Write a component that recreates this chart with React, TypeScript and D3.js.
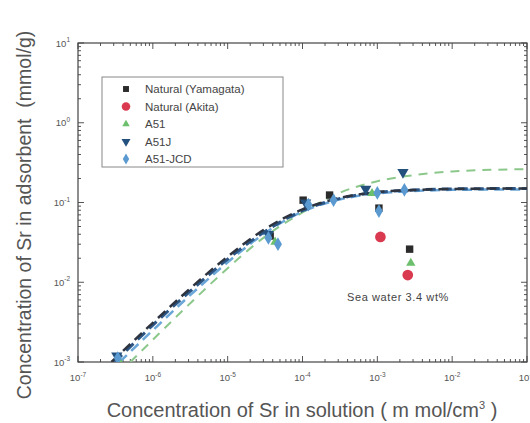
import * as d3 from 'd3'
import React from 'react'

// measured points (c in mmol/cm3, q in mmol/g)
const yamagataC = [3.7e-5, 1.02e-4, 2.3e-4, 1.05e-3, 2.7e-3]
const yamagataQ = [0.038, 0.107, 0.124, 0.085, 0.026]
const akitaC = [1.1e-3, 2.55e-3]
const akitaQ = [0.037, 0.0123]
const a51C = [3.6e-7, 4.3e-5, 8.5e-4, 2.8e-3]
const a51Q = [1.0e-3, 0.032, 0.13, 0.0174]
const a51jC = [3.3e-7, 3.5e-5, 1.1e-4, 7.0e-4, 2.2e-3]
const a51jQ = [1.2e-3, 0.040, 0.099, 0.148, 0.24]
const jcdC = [3.4e-7, 3.5e-5, 4.7e-5, 1.2e-4, 2.6e-4, 1.0e-3, 1.05e-3, 2.3e-3]
const jcdQ = [1.12e-3, 0.036, 0.030, 0.094, 0.107, 0.132, 0.078, 0.144]

// fitted curves
const fitBlackC = [2.8e-7, 1e-6, 3e-6, 1e-5, 3e-5, 1e-4, 3e-4, 1e-3, 3e-3, 1e-2, 1e-1]
const fitBlackQ = [1e-3, 0.0031, 0.008, 0.021, 0.045, 0.082, 0.113, 0.135, 0.143, 0.148, 0.15]
const fitBlueC = [3.1e-7, 1e-6, 3e-6, 1e-5, 3e-5, 1e-4, 3e-4, 1e-3, 3e-3, 1e-2, 1e-1]
const fitBlueQ = [1e-3, 0.0029, 0.0074, 0.0195, 0.042, 0.079, 0.111, 0.134, 0.143, 0.148, 0.15]
const fitJcdC = [3.6e-7, 1e-6, 3e-6, 1e-5, 3e-5, 1e-4, 3e-4, 1e-3, 3e-3, 1e-2, 1e-1]
const fitJcdQ = [1e-3, 0.0025, 0.0066, 0.0178, 0.04, 0.077, 0.108, 0.13, 0.139, 0.144, 0.146]
const fitGreenC = [5e-7, 1e-6, 3e-6, 1e-5, 3e-5, 1e-4, 3e-4, 1e-3, 3e-3, 1e-2, 1e-1]
const fitGreenQ = [1e-3, 0.0019, 0.0052, 0.015, 0.036, 0.075, 0.13, 0.185, 0.22, 0.245, 0.262]

const xExps = [-7, -6, -5, -4, -3, -2, -1]
const yExps = [1, 0, -1, -2, -3]

const W = 530
const H = 423
const m = { left: 78, right: 527, top: 43, bottom: 362 }

const x = d3.scaleLog().domain([1e-7, 1e-1]).range([m.left, m.right])
const y = d3.scaleLog().domain([1e-3, 1e1]).range([m.bottom, m.top])

const zip = (cs: number[], qs: number[]) => cs.map((c, i) => [c, qs[i]] as [number, number])

const line = d3.line<[number, number]>()
  .x(d => x(d[0]))
  .y(d => y(d[1]))
  .curve(d3.curveMonotoneX)

const minor = (lo: number, hi: number) => {
  const out: number[] = []
  for (let e = lo; e < hi; e++) {
    for (let k = 2; k <= 9; k++) out.push(k * Math.pow(10, e))
  }
  return out
}

const sym = (type: d3.SymbolType, size: number) => d3.symbol().type(type).size(size)() as string

const series = [
  { label: 'Natural (Yamagata)', c: yamagataC, q: yamagataQ, color: '#2b2b2b', path: sym(d3.symbolSquare, 55), rot: 0 },
  { label: 'Natural (Akita)', c: akitaC, q: akitaQ, color: '#d93a50', path: sym(d3.symbolCircle, 90), rot: 0 },
  { label: 'A51', c: a51C, q: a51Q, color: '#6cbf6c', path: sym(d3.symbolTriangle, 38), rot: 0 },
  { label: 'A51J', c: a51jC, q: a51jQ, color: '#24507e', path: sym(d3.symbolTriangle, 55), rot: 180 },
  { label: 'A51-JCD', c: jcdC, q: jcdQ, color: '#5a9ad0', path: sym(d3.symbolDiamond, 55), rot: 0 }
]

const fits = [
  { c: fitGreenC, q: fitGreenQ, color: '#8cc88c', w: 2, dash: '9,7' },
  { c: fitJcdC, q: fitJcdQ, color: '#6aa6d8', w: 2.5, dash: '10,6' },
  { c: fitBlueC, q: fitBlueQ, color: '#2a5585', w: 3, dash: '10,6' },
  { c: fitBlackC, q: fitBlackQ, color: '#2e3440', w: 2.5, dash: '10,6' }
]

const tickColor = '#555'
const font = 'Arial, "Liberation Sans", sans-serif'

function Pow ({ e }: { e: number }) {
  return (
    <>
      10<tspan dy={-4.5} fontSize={6.5}>{e}</tspan>
    </>
  )
}

export default function App () {
  const xMinor = minor(-7, -1)
  const yMinor = minor(-3, 1)
  return (
    <div style={{ position: 'fixed', left: 0, top: 0 }}>
      <svg width={W} height={H} style={{ display: 'block', background: '#fff' }} fontFamily={font}>
        <defs>
          <clipPath id='plot'>
            <rect x={m.left} y={m.top} width={m.right - m.left} height={m.bottom - m.top} />
          </clipPath>
        </defs>

        {/* ticks inside the frame, all four sides */}
        <g stroke={tickColor} strokeWidth={1}>
          {xMinor.map((v, i) => (
            <g key={'xm' + i}>
              <line x1={x(v)} x2={x(v)} y1={m.bottom} y2={m.bottom - 3} />
              <line x1={x(v)} x2={x(v)} y1={m.top} y2={m.top + 3} />
            </g>
          ))}
          {xExps.map(e => (
            <g key={'xM' + e}>
              <line x1={x(Math.pow(10, e))} x2={x(Math.pow(10, e))} y1={m.bottom} y2={m.bottom - 6} />
              <line x1={x(Math.pow(10, e))} x2={x(Math.pow(10, e))} y1={m.top} y2={m.top + 6} />
            </g>
          ))}
          {yMinor.map((v, i) => (
            <g key={'ym' + i}>
              <line x1={m.left} x2={m.left + 3} y1={y(v)} y2={y(v)} />
              <line x1={m.right} x2={m.right - 3} y1={y(v)} y2={y(v)} />
            </g>
          ))}
          {yExps.map(e => (
            <g key={'yM' + e}>
              <line x1={m.left} x2={m.left + 6} y1={y(Math.pow(10, e))} y2={y(Math.pow(10, e))} />
              <line x1={m.right} x2={m.right - 6} y1={y(Math.pow(10, e))} y2={y(Math.pow(10, e))} />
            </g>
          ))}
        </g>
        <rect x={m.left} y={m.top} width={m.right - m.left} height={m.bottom - m.top} fill='none' stroke='#444' strokeWidth={1.2} />

        {/* tick labels */}
        <g fill='#555' fontSize={9.5}>
          {xExps.map(e => (
            <text key={'xl' + e} x={x(Math.pow(10, e))} y={m.bottom + 19} textAnchor='middle'>
              <Pow e={e} />
            </text>
          ))}
          {yExps.map(e => (
            <text key={'yl' + e} x={m.left - 8} y={y(Math.pow(10, e)) + 3.5} textAnchor='end'>
              <Pow e={e} />
            </text>
          ))}
        </g>

        {/* fitted curves */}
        <g clipPath='url(#plot)' fill='none'>
          {fits.map((f, i) => (
            <path key={'f' + i} d={line(zip(f.c, f.q)) as string} stroke={f.color} strokeWidth={f.w} strokeDasharray={f.dash} />
          ))}
        </g>

        {/* measured points */}
        <g clipPath='url(#plot)'>
          {series.map(s => zip(s.c, s.q).map((d, i) => (
            <path key={s.label + i} d={s.path} fill={s.color}
              transform={`translate(${x(d[0])},${y(d[1])}) rotate(${s.rot})`} />
          )))}
        </g>

        {/* legend */}
        <rect x={102} y={77} width={181} height={90} fill='#fff' stroke='#888' strokeWidth={1} />
        {series.map((s, i) => (
          <g key={'lg' + i} transform={`translate(0,${89 + i * 17.5})`}>
            <path d={s.path} fill={s.color} transform={`translate(126,0) rotate(${s.rot}) scale(0.8)`} />
            <text x={145} y={4} fontSize={11.5} fill='#444'>{s.label}</text>
          </g>
        ))}

        <text x={398} y={301} fontSize={11} letterSpacing={0.6} fill='#444' textAnchor='middle'>Sea water 3.4 wt%</text>

        {/* axis titles */}
        <text x={302} y={417} fontSize={20} fill='#555' textAnchor='middle'>
          Concentration of Sr in solution ( m mol/cm<tspan dy={-8} fontSize={11}>3</tspan><tspan dy={8}> )</tspan>
        </text>
        <text transform='translate(31,215) rotate(-90)' fontSize={19.5} fill='#555' textAnchor='middle' xmlSpace='preserve'>
          Concentration of Sr in adsorbent  (mmol/g)
        </text>
      </svg>
    </div>
  )
}
